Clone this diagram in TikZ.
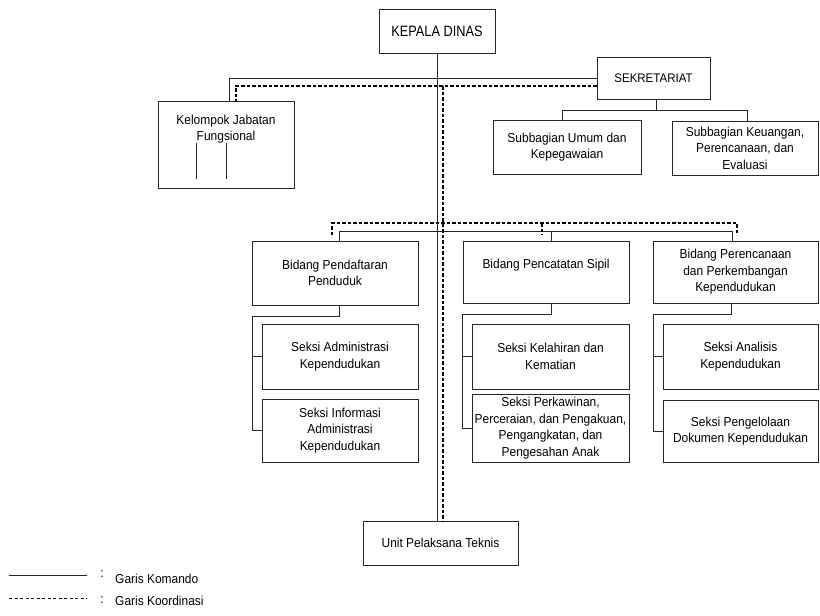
\documentclass[tikz,border=0pt]{standalone}
\usepackage{fontspec}
\setmainfont{Liberation Sans}
\newfontfamily\headfont[FakeStretch=0.85]{Liberation Sans}
\newfontfamily\boxfont[FakeStretch=0.92]{Liberation Sans}
\usetikzlibrary{calc}
\begin{document}
\begin{tikzpicture}[x=1pt,y=-1pt,
  box/.style={draw=black!85, line width=0.95pt, align=center, inner sep=0pt,
    font=\boxfont\fontsize{13}{16.5}\selectfont, text=black},
  cmd/.style={draw=black!85, line width=0.9pt},
  koord/.style={draw=black, line width=1.2pt, dash pattern=on 3.5pt off 2pt},
  plain/.style={inner sep=0pt, font=\boxfont\fontsize{13}{16.5}\selectfont, text=black}]
\useasboundingbox (0,0) rectangle (820,616);

% boxes
\node[box, minimum width=116pt, minimum height=44pt, font=\headfont\fontsize{15}{17}\selectfont] (kepala) at (437,31) {KEPALA DINAS};
\node[box, minimum width=113pt, minimum height=42pt, font=\boxfont\fontsize{12.5}{16}\selectfont] (sekr) at (653.5,78) {SEKRETARIAT};
\node[box, minimum width=136pt, minimum height=87pt] (kelompok) at (226,144.5) {Kelompok Jabatan\\Fungsional\\~\\~};
\node[box, minimum width=148pt, minimum height=54pt] (subumum) at (567,147) {Subbagian Umum dan\\Kepegawaian};
\node[box, minimum width=146pt, minimum height=54pt] (subkeu) at (745,148) {Subbagian Keuangan,\\Perencanaan, dan\\Evaluasi};

\node[box, minimum width=166pt, minimum height=64pt] (bid1) at (335,273) {Bidang Pendaftaran\\Penduduk};
\node[box, minimum width=166pt, minimum height=62pt] (bid2) at (546,272) {Bidang Pencatatan Sipil\\~};
\node[box, minimum width=165pt, minimum height=62pt] (bid3) at (735.5,272) {Bidang Perencanaan\\dan Perkembangan\\Kependudukan};

\node[box, minimum width=156pt, minimum height=65pt] (s1a) at (340,356.5) {Seksi Administrasi\\Kependudukan};
\node[box, minimum width=156pt, minimum height=63pt] (s1b) at (340,430.5) {Seksi Informasi\\Administrasi\\Kependudukan};
\node[box, minimum width=157pt, minimum height=65pt] (s2a) at (550.5,356.5) {Seksi Kelahiran dan\\Kematian};
\node[box, minimum width=157pt, minimum height=68pt] (s2b) at (550.5,428) {Seksi Perkawinan,\\Perceraian, dan Pengakuan,\\Pengangkatan, dan\\Pengesahan Anak};
\node[box, minimum width=155pt, minimum height=65pt] (s3a) at (740.5,356.5) {Seksi Analisis\\Kependudukan};
\node[box, minimum width=155pt, minimum height=62pt] (s3b) at (740.5,431) {Seksi Pengelolaan\\Dokumen Kependudukan};

\node[box, minimum width=155pt, minimum height=44pt] (upt) at (440.5,543) {Unit Pelaksana Teknis};

% command lines (solid)
\draw[cmd] (kepala.south) -- (kepala.south |- upt.north);
\coordinate (kjL) at (229,78);
\draw[cmd] (sekr.west) -- (sekr.west -| kjL) -- (kjL |- kelompok.north);
\draw[cmd] (196,143) -- (196,179) (226,143) -- (226,179);

\coordinate (sj) at (656,110);
\coordinate (sjL) at (562,110);
\coordinate (sjR) at (747,110);
\draw[cmd] (sj |- sekr.south) -- (sj);
\draw[cmd] (sjL |- subumum.north) -- (sjL) -- (sjR) -- (sjR |- subkeu.north);

\coordinate (bjL) at (339,231);
\coordinate (bjM) at (551,231);
\coordinate (bjR) at (732,231);
\draw[cmd] (bjL |- bid1.north) -- (bjL) -- (bjR) -- (bjR |- bid3.north);
\draw[cmd] (bjM) -- (bjM |- bid2.north);

\coordinate (b1a) at (339,316);
\coordinate (b1x) at (252,316);
\draw[cmd] (b1a |- bid1.south) -- (b1a) -- (b1x) |- (s1b.west);
\draw[cmd] (b1x |- s1a.west) -- (s1a.west);

\coordinate (b2a) at (551,314);
\coordinate (b2x) at (462,314);
\draw[cmd] (b2a |- bid2.south) -- (b2a) -- (b2x) |- (s2b.west);
\draw[cmd] (b2x |- s2a.west) -- (s2a.west);

\coordinate (b3a) at (731,314);
\coordinate (b3x) at (653,314);
\draw[cmd] (b3a |- bid3.south) -- (b3a) -- (b3x) |- (s3b.west);
\draw[cmd] (b3x |- s3a.west) -- (s3a.west);

% coordination lines (dashed)
\coordinate (kdL) at (236,86);
\coordinate (kdR) at (sekr.west |- kdL);
\draw[koord] (kdR) -- (kdL) -- (kdL |- kelompok.north);
\coordinate (kdV) at (443,86);
\draw[koord] (kdV) -- (kdV |- upt.north);

\coordinate (bdL) at (332,223);
\coordinate (bdM) at (542,223);
\coordinate (bdR) at (737,223);
\coordinate (bdLe) at (332,235);
\coordinate (bdMe) at (542,235);
\coordinate (bdRe) at (737,235);
\draw[koord] (bdLe) -- (bdL) -- (bdR) -- (bdRe);
\draw[koord] (bdM) -- (bdMe);

% legend
\coordinate (l1a) at (9,575);
\coordinate (l1b) at (87,575);
\draw[cmd] (l1a) -- (l1b);
\node[plain] (c1) at (102,574) {:};
\node[plain, anchor=west] (t1) at (115,579) {Garis Komando};
\coordinate (l2a) at (9,598);
\coordinate (l2b) at (87,598);
\draw[koord, line width=0.9pt, dash pattern=on 3pt off 2.5pt] (l2a) -- (l2b);
\node[plain] (c2) at (102,600) {:};
\node[plain, anchor=west] (t2) at (115,601) {Garis Koordinasi};
\end{tikzpicture}
\end{document}
